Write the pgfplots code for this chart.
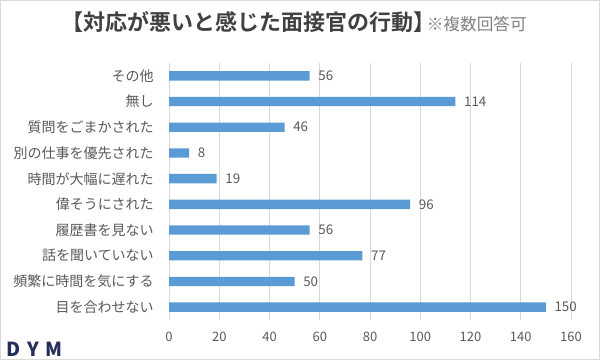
\documentclass[border=0pt]{standalone}
\usepackage{pgfplots}
\pgfplotsset{compat=1.18}
\usepackage{fontspec}
\setmainfont{Noto Sans CJK JP}[BoldFont={Noto Sans CJK JP Bold}]
\newfontfamily\logofont{Noto Sans CJK JP Black}
\definecolor{barblue}{HTML}{5B9BD5}
\definecolor{txtgray}{HTML}{595959}
\definecolor{titlegray}{HTML}{404040}
\definecolor{notegray}{HTML}{808080}
\definecolor{gridgray}{HTML}{D9D9D9}
\definecolor{logonavy}{HTML}{262C5C}
\begin{document}
\begin{tikzpicture}
\useasboundingbox (0,0) rectangle (450pt,270pt);
\draw[gridgray, line width=0.75pt] (0.375pt,0.375pt) rectangle (449.625pt,269.625pt);
\begin{axis}[
  at={(126.75pt,30pt)}, anchor=south west,
  scale only axis, width=301.5pt, height=192.75pt,
  xbar, bar width=7pt,
  xmin=0, xmax=160, ymin=-0.5, ymax=9.5,
  xtick={0,20,...,160},
  ytick={0,...,9},
  yticklabels={目を合わせない,頻繁に時間を気にする,話を聞いていない,履歴書を見ない,偉そうにされた,時間が大幅に遅れた,別の仕事を優先された,質問をごまかされた,無し,その他},
  axis line style={draw=none},
  major tick length=0pt,
  xmajorgrids, major grid style={gridgray, line width=0.75pt},
  /pgf/number format/assume math mode=true,
  tick label style={color=txtgray},
  xticklabel style={font=\fontsize{9.75pt}{11pt}\selectfont, yshift=-5.5pt},
  yticklabel style={font=\fontsize{10.5pt}{12pt}\selectfont, xshift=-8pt},
  nodes near coords,
  nodes near coords style={font=\fontsize{10pt}{11pt}\selectfont, color=txtgray, anchor=west, xshift=3pt},
]
\addplot[fill=barblue, draw=none] coordinates {
  (150,0) (50,1) (77,2) (56,3) (96,4) (19,5) (8,6) (46,7) (114,8) (56,9)
};
\end{axis}
\node[anchor=west, inner sep=0pt, text=titlegray, font=\bfseries\fontsize{16.5pt}{19pt}\selectfont] (t) at (46pt,253.5pt) {【対応が悪いと感じた面接官の行動】};
\node[anchor=base west, inner sep=0pt, text=notegray, font=\fontsize{12.5pt}{14pt}\selectfont] at ([xshift=-7pt]t.base east) {※複数回答可};
\node[anchor=center, inner sep=0pt, text=logonavy, font=\logofont\fontsize{14.5pt}{16pt}\selectfont] at (26pt,8pt) {D\hspace{5pt}Y\hspace{5pt}M};
\end{tikzpicture}
\end{document}
